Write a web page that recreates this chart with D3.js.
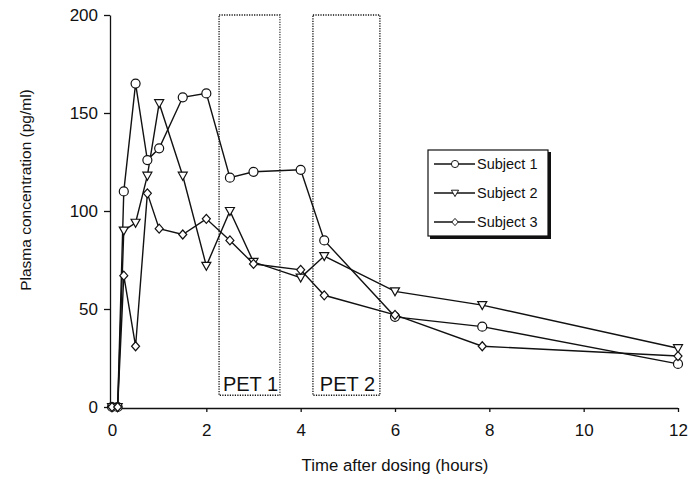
<!DOCTYPE html>
<html>
<head>
<meta charset="utf-8">
<script src="https://cdn.jsdelivr.net/npm/d3@7"></script>
<style>
  html, body { margin: 0; padding: 0; background: #fff; }
  svg { display: block; font-family: "Liberation Sans", Arial, Helvetica, sans-serif; }
</style>
</head>
<body>
<script>
// ---- data ----
const times    = [0, 0.12, 0.25, 0.5, 0.75, 1, 1.5, 2, 2.5, 3, 4, 4.5, 6, 7.85, 12];
const subject1 = [0, 0, 110, 165, 126, 132, 158, 160, 117, 120, 121, 85, 46, 41, 22];
const subject2 = [0, 0, 90, 94, 118, 155, 118, 72, 100, 74, 66, 77, 59, 52, 30];
const subject3 = [0, 0, 67, 31, 109, 91, 88, 96, 85, 73, 70, 57, 47, 31, 26];
const seriesNames = ["Subject 1", "Subject 2", "Subject 3"];
const seriesShapes = ["circle", "triangle", "diamond"];
const petLabels = ["PET 1", "PET 2"];
const petStart  = [2.27, 4.26];
const petEnd    = [3.56, 5.68];
const petLow    = [6, 6];
const petHigh   = [200, 200];
const xTicks = [0, 2, 4, 6, 8, 10, 12];
const yTicks = [0, 50, 100, 150, 200];

// ---- layout ----
const W = 694, H = 481;
const svg = d3.select("body").append("svg").attr("width", W).attr("height", H);
const x = d3.scaleLinear().domain([0, 12]).range([112, 678]);
const y = d3.scaleLinear().domain([0, 200]).range([407, 15]);
const FONT = "Liberation Sans, Arial, sans-serif";

const series = [subject1, subject2, subject3].map((vals, i) => ({
  name: seriesNames[i], shape: seriesShapes[i],
  points: times.map((t, j) => ({ t, v: vals[j] }))
}));

// PET windows
const pets = petLabels.map((l, i) => ({ label: l, x0: petStart[i], x1: petEnd[i], y0: petLow[i], y1: petHigh[i] }));
const pg = svg.append("g");
pg.selectAll("rect").data(pets).join("rect")
  .attr("x", d => x(d.x0)).attr("y", d => y(d.y1))
  .attr("width", d => x(d.x1) - x(d.x0)).attr("height", d => y(d.y0) - y(d.y1))
  .attr("fill", "none").attr("stroke", "#111").attr("stroke-width", 1.3)
  .attr("stroke-dasharray", "1.2,1.3");
pg.selectAll("text").data(pets).join("text")
  .attr("x", d => (x(d.x0) + x(d.x1)) / 2 + 1).attr("y", d => y(d.y0) - 4)
  .attr("text-anchor", "middle").attr("font-size", 20).attr("fill", "#111")
  .text(d => d.label);

// axes
const yAxis = d3.axisLeft(y).tickValues(yTicks).tickSize(6).tickSizeOuter(0).tickPadding(6);
const gy = svg.append("g").attr("transform", `translate(${x(0) - 2},0)`).call(yAxis);
gy.selectAll("text").attr("font-size", 17).attr("fill", "#111").attr("font-family", FONT);
gy.selectAll("path,line").attr("stroke", "#111").attr("stroke-width", 1.3);

const xAxis = d3.axisBottom(x).tickValues(xTicks).tickSize(4).tickSizeOuter(0).tickPadding(12);
const gx = svg.append("g").attr("transform", "translate(0,408)").call(xAxis);
gx.select(".domain").attr("d", `M${x(0) - 2},0.5H${x(12)}`);
gx.selectAll("text").attr("font-size", 17).attr("fill", "#111").attr("font-family", FONT);
gx.selectAll("path,line").attr("stroke", "#111").attr("stroke-width", 1.3);

// axis titles
svg.append("text").attr("x", 395).attr("y", 471).attr("text-anchor", "middle")
  .attr("font-size", 16.8).attr("fill", "#111").text("Time after dosing (hours)");
svg.append("text").attr("transform", "translate(31,190) rotate(-90)").attr("text-anchor", "middle")
  .attr("font-size", 15.5).attr("fill", "#111").text("Plasma concentration (pg/ml)");

// markers
function marker(sel, shape) {
  if (shape === "circle") {
    sel.append("circle").attr("r", 4.5);
  } else if (shape === "triangle") {
    sel.append("path").attr("d", "M-4.5,-3.5L4.5,-3.5L0,4.5Z");
  } else {
    sel.append("path").attr("d", "M0,-4.5L4,0L0,4.5L-4,0Z");
  }
  sel.selectAll("circle,path").attr("fill", "#fff").attr("stroke", "#111").attr("stroke-width", 1.2);
}

const line = d3.line().x(d => x(d.t)).y(d => y(d.v));
const sg = svg.append("g");
series.forEach(s => {
  sg.append("path").datum(s.points).attr("d", line)
    .attr("fill", "none").attr("stroke", "#111").attr("stroke-width", 1.4);
});
series.forEach(s => {
  s.points.forEach(p => {
    const g = sg.append("g").attr("transform", `translate(${x(p.t)},${y(p.v)})`);
    marker(g, s.shape);
  });
});

// legend
const lg = svg.append("g").attr("transform", "translate(428,150)");
lg.append("rect").attr("x", 2).attr("y", 2).attr("width", 121).attr("height", 87).attr("fill", "#111");
lg.append("rect").attr("x", 0).attr("y", 0).attr("width", 120).attr("height", 86)
  .attr("fill", "#fff").attr("stroke", "#111").attr("stroke-width", 1.2);
series.forEach((s, i) => {
  const yy = 14 + i * 29;
  lg.append("line").attr("x1", 6).attr("x2", 47).attr("y1", yy).attr("y2", yy)
    .attr("stroke", "#111").attr("stroke-width", 1.3);
  const g = lg.append("g");
  marker(g, s.shape);
  g.attr("transform", `translate(27,${yy}) scale(0.8)`);
  lg.append("text").attr("x", 49).attr("y", yy + 5).attr("font-size", 14.5).attr("fill", "#111").text(s.name);
});
</script>
</body>
</html>
